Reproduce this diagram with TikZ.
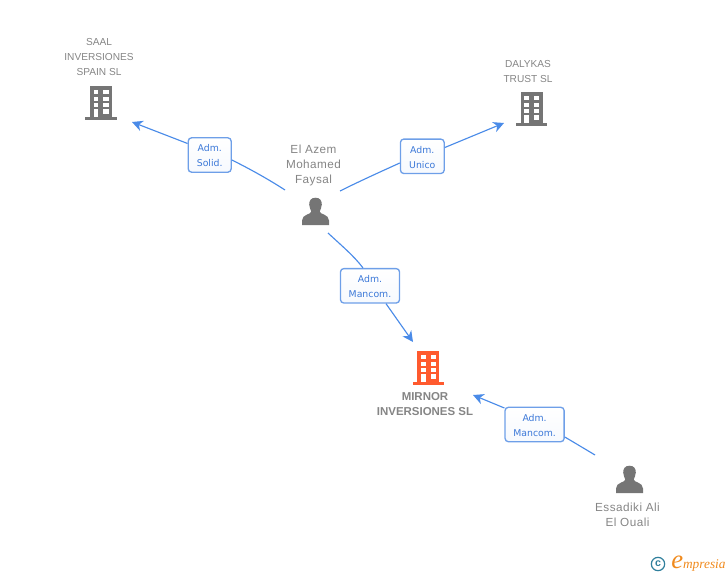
\documentclass[tikz,border=0pt]{standalone}
\usepackage{fontspec}
\setmainfont{Liberation Sans}
\newfontfamily\lblfont{DejaVu Sans}
\newfontfamily\logofont{Liberation Serif}
\usetikzlibrary{arrows.meta}
\definecolor{ink}{HTML}{757575}
\definecolor{txt}{HTML}{858585}
\definecolor{hot}{HTML}{FF5A2E}
\definecolor{edgec}{HTML}{4A8BE8}
\definecolor{boxb}{HTML}{6E9FE8}
\definecolor{lbl}{HTML}{3B78D8}
\definecolor{tealc}{HTML}{2F7F9C}
\definecolor{logoc}{HTML}{F08A1D}
\newcommand\upst{\rule{0pt}{6.8pt}}
\tikzset{
 x=0.75pt,y=-0.75pt,
 coname/.style={inner sep=0pt,align=center,text=txt,font=\fontsize{7.6pt}{11.25pt}\selectfont},
 pname/.style={inner sep=0pt,align=center,text=txt,font=\addfontfeature{LetterSpace=4}\fontsize{8.8pt}{11.25pt}\selectfont},
 mainname/.style={inner sep=0pt,align=center,text=txt,font=\fontsize{8.6pt}{11.25pt}\selectfont\bfseries},
 rolebox/.style={draw=boxb,line width=1pt,rounded corners=2.5pt,top color=white,bottom color=white!94!boxb,inner sep=0pt,align=center,text=lbl,font=\lblfont\fontsize{7pt}{11.25pt}\selectfont,anchor=center,minimum height=25.8pt},
 conn/.style={draw=edgec,line width=0.85pt},
 tipline/.style={conn,-{Stealth[length=8pt,width=8pt,inset=2.5pt]}},
 pics/building/.style={code={
  \fill[#1] (-11,-34) rectangle (11,-3);
  \fill[#1] (-15.7,-3) rectangle (15.7,0);
  \foreach \a/\b in {-7.3/-2.7,2.3/7.7}{
    \foreach \c/\d in {-30/-25.7,-23/-19,-16.7/-12.7}{\fill[white] (\a,\c) rectangle (\b,\d);}
  }
  \fill[white] (-7.3,-10.7) rectangle (-2.7,-3);
  \fill[white] (2.3,-10.7) rectangle (7.7,-6);
 }},
 pics/person/.style={code={
  \fill[ink] (0,-27.3) .. controls (4.8,-27.3) and (6.3,-24) .. (6.3,-20.5) .. controls (6.3,-17.5) and (4.8,-15.5) .. (4.2,-13.5) .. controls (4.2,-10.5) and (13.3,-11) .. (13.5,-4.5) -- (13.5,0) -- (-13.5,0) -- (-13.5,-4.5) .. controls (-13.3,-11) and (-4.2,-10.5) .. (-4.2,-13.5) .. controls (-4.8,-15.5) and (-6.3,-17.5) .. (-6.3,-20.5) .. controls (-6.3,-24) and (-4.8,-27.3) .. (0,-27.3) -- cycle;
 }},
}
\begin{document}
\begin{tikzpicture}
\useasboundingbox (0,0) rectangle (728,575);
% icons
\pic at (101,120) {building=ink};
\pic at (531.5,126) {building=ink};
\pic at (428.3,385) {building=hot};
\pic at (315.5,225) {person};
\pic at (629.5,493) {person};
% names
\node[coname] (saal) at (99,57.5) {SAAL\\INVERSIONES\\SPAIN SL};
\node[coname] (dalykas) at (528,71.5) {DALYKAS\\TRUST SL};
\node[pname] (azem) at (313.5,165.5) {El Azem\\Mohamed\\Faysal};
\node[mainname] (mirnor) at (425,404) {MIRNOR\\INVERSIONES SL};
\node[pname] (essadiki) at (627.5,514.5) {Essadiki Ali\\El Ouali};
% anchors of the connectors
\coordinate (azemA) at (285,190);
\coordinate (azemB) at (340,191);
\coordinate (azemC) at (328,233);
\coordinate (essA) at (595,455);
\coordinate (toSaal) at (132,122);
\coordinate (toDal) at (504,123);
\coordinate (toMir) at (413,342);
\coordinate (toMir2) at (473,395);
% role boxes
\node[rolebox,minimum width=32.2pt] (r1) at (209.7,155) {\upst Adm.\\Solid.};
\node[rolebox,minimum width=32.8pt] (r2) at (422.3,156.3) {\upst Adm.\\Unico};
\node[rolebox,minimum width=44.3pt] (r3) at (370,285.8) {\upst Adm.\\Mancom.};
\node[rolebox,minimum width=44.3pt] (r4) at (534.6,424.5) {\upst Adm.\\Mancom.};
% connectors
\draw[conn] (azemA) .. controls (268,179) and (250,169) .. (r1.east |- 0,160);
\draw[tipline] (r1.west |- 0,143.5) -- (toSaal);
\draw[conn] (azemB) .. controls (360,181) and (380,172) .. (r2.west |- 0,163);
\draw[tipline] (r2.east |- 0,147.5) -- (toDal);
\draw[conn] (azemC) .. controls (342,246) and (354,256) .. (r3.north -| 363,0);
\draw[tipline] (r3.south -| 386,0) -- (toMir);
\draw[conn] (essA) .. controls (585,449) and (575,443) .. (r4.east |- 0,437);
\draw[tipline] (r4.west |- 0,408) -- (toMir2);
% logo
\node[draw=tealc,line width=0.9pt,circle,inner sep=0pt,minimum size=10pt,text=tealc,font=\bfseries\fontsize{8pt}{8pt}\selectfont] (copy) at (658,564) {\raisebox{0.4pt}{c}};
\node[anchor=base west,inner sep=0pt,text=logoc,font=\logofont\itshape\fontsize{10pt}{10pt}\selectfont] (emp) at (671,568) {\fontsize{20pt}{20pt}\selectfont e\fontsize{10pt}{10pt}\selectfont mpresia};
\end{tikzpicture}
\end{document}
